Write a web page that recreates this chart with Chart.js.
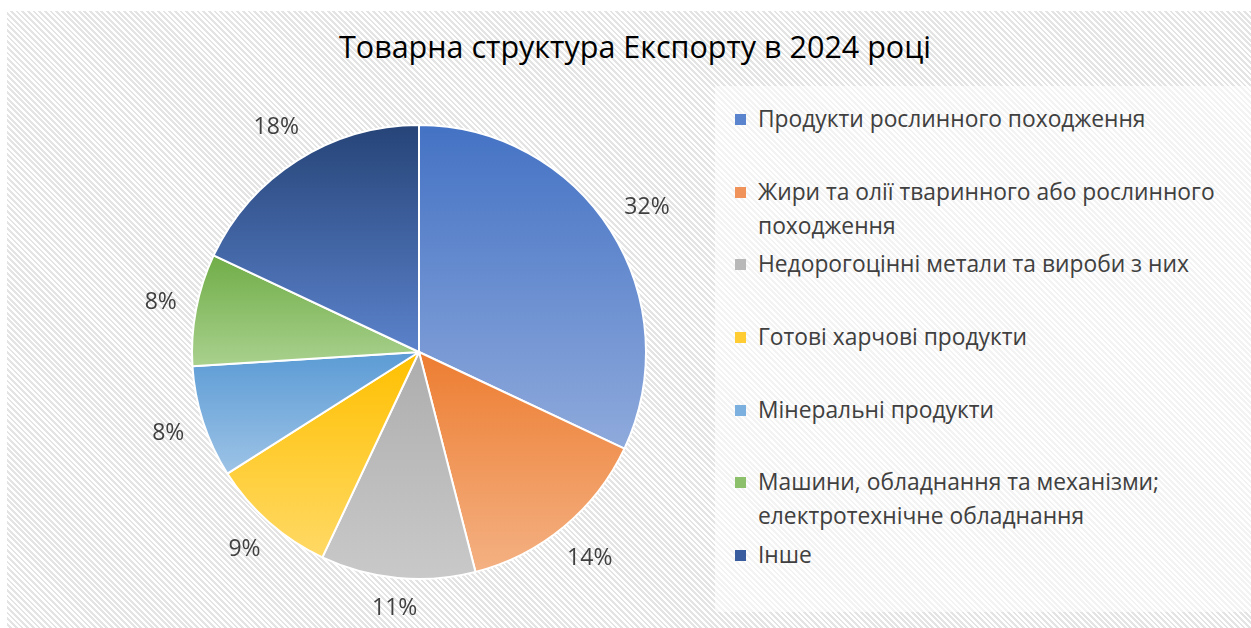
<!DOCTYPE html>
<html lang="uk">
<head>
<meta charset="utf-8">
<title>Товарна структура Експорту в 2024 році</title>
<script src="https://cdn.jsdelivr.net/npm/chart.js@4"></script>
<style>
    html, body {
        margin: 0;
        padding: 0;
        width: 1251px;
        height: 628px;
        overflow: hidden;
        background: #fff;
        font-family: "Open Sans", "Noto Sans", sans-serif;
    }
    #frame {
        position: absolute;
        left: 7px;
        top: 11px;
        right: 0;
        bottom: 0;
        background: repeating-linear-gradient(45deg, #ffffff 0px, #ffffff 2px, #e4e4e4 2px, #e4e4e4 4px);
    }
    #title {
        position: absolute;
        left: 0;
        width: 1270px;
        top: 25px;
        text-align: center;
        font-size: 30.5px;
        color: #000;
        white-space: nowrap;
    }
    #legend-box {
        position: absolute;
        left: 715px;
        top: 86px;
        width: 536px;
        height: 526px;
        background: rgba(255, 255, 255, 0.55);
    }
    .legend-item {
        position: absolute;
        left: 735px;
        width: 495px;
        font-size: 22.8px;
        line-height: 34px;
        color: #404040;
    }
    .legend-item .mark {
        position: absolute;
        left: 0;
        top: 12px;
        width: 11px;
        height: 11px;
    }
    .legend-item .text {
        margin-left: 23px;
    }
    #chart {
        position: absolute;
        left: 0;
        top: 0;
    }
</style>
</head>
<body>
<div id="frame"></div>
<div id="legend-box"></div>
<div id="title">Товарна структура Експорту в 2024 році</div>
<div id="legend"></div>
<canvas id="chart" width="1251" height="628"></canvas>
<script>
(function () {
    "use strict";

    // Data
    var categories = [
        "Продукти рослинного походження",
        "Жири та олії тваринного або рослинного походження",
        "Недорогоцінні метали та вироби з них",
        "Готові харчові продукти",
        "Мінеральні продукти",
        "Машини, обладнання та механізми; електротехнічне обладнання",
        "Інше"
    ];
    var shares = [32, 14, 11, 9, 8, 8, 18];

    // Colours: top and bottom of each slice's gradient
    var topColors = ["#4472c4", "#ed7d31", "#adadad", "#ffc000", "#5b9bd5", "#70ad47", "#264478"];
    var bottomColors = ["#8faadc", "#f4b183", "#c9c9c9", "#ffd966", "#9dc3e6", "#a9d18e", "#5b82cb"];
    var markColors = ["#5b84cf", "#f0935a", "#b8b8b8", "#ffcd33", "#7cb0de", "#8dc06b", "#3a5da0"];


    // Legend
    var legend = document.getElementById("legend");
    categories.forEach(function (name, i) {
        var item = document.createElement("div");
        item.className = "legend-item";
        item.style.top = (102 + 72.67 * i) + "px";
        item.innerHTML = '<span class="mark" style="background:' + markColors[i] + '"></span>' +
            '<div class="text">' + name + '</div>';
        legend.appendChild(item);
    });


    // Vertical gradient per slice
    var sliceGradient = {
        id: "sliceGradient",
        beforeDatasetsDraw: function (chart) {
            var ctx = chart.ctx;
            chart.getDatasetMeta(0).data.forEach(function (arc, i) {
                var p = arc.getProps(["x", "y", "startAngle", "endAngle", "outerRadius"]);
                var top = p.y, bottom = p.y;
                for (var k = 0; k <= 90; k++) {
                    var a = p.startAngle + (p.endAngle - p.startAngle) * k / 90;
                    var py = p.y + p.outerRadius * Math.sin(a);
                    top = Math.min(top, py);
                    bottom = Math.max(bottom, py);
                }
                var g = ctx.createLinearGradient(0, top, 0, bottom);
                g.addColorStop(0, topColors[i]);
                g.addColorStop(1, bottomColors[i]);
                arc.options.backgroundColor = g;
            });
        }
    };

    // Percentage labels outside the pie
    var outsideLabels = {
        id: "outsideLabels",
        afterDatasetsDraw: function (chart) {
            var ctx = chart.ctx;
            ctx.save();
            ctx.font = '23px "Open Sans", "Noto Sans", sans-serif';
            ctx.fillStyle = "#404040";
            ctx.textAlign = "center";
            ctx.textBaseline = "middle";
            chart.getDatasetMeta(0).data.forEach(function (arc, i) {
                var p = arc.getProps(["x", "y", "startAngle", "endAngle", "outerRadius"]);
                var mid = (p.startAngle + p.endAngle) / 2;
                var text = shares[i] + "%";
                var w = ctx.measureText(text).width;
                var c = Math.cos(mid), s = Math.sin(mid);
                var d = p.outerRadius + 18 + Math.abs(c) * w / 2 + Math.abs(s) * 11;
                ctx.fillText(text, p.x + c * d, p.y + s * d);
            });
            ctx.restore();
        }
    };


    // Pie chart
    var ctx1 = document.getElementById("chart").getContext("2d");
    var myChart1 = new Chart(ctx1, {
        type: "pie",
        data: {
            labels: categories,
            datasets: [{
                data: shares,
                backgroundColor: topColors,
                borderColor: "#ffffff",
                borderWidth: 2
            }]
        },
        options: {
            responsive: false,
            animation: false,
            layout: {
                padding: { left: 191, right: 604, top: 124, bottom: 48 }
            },
            plugins: {
                legend: { display: false },
                title: { display: false },
                tooltip: { enabled: false }
            }
        },
        plugins: [sliceGradient, outsideLabels]
    });

})();
</script>
</body>
</html>
